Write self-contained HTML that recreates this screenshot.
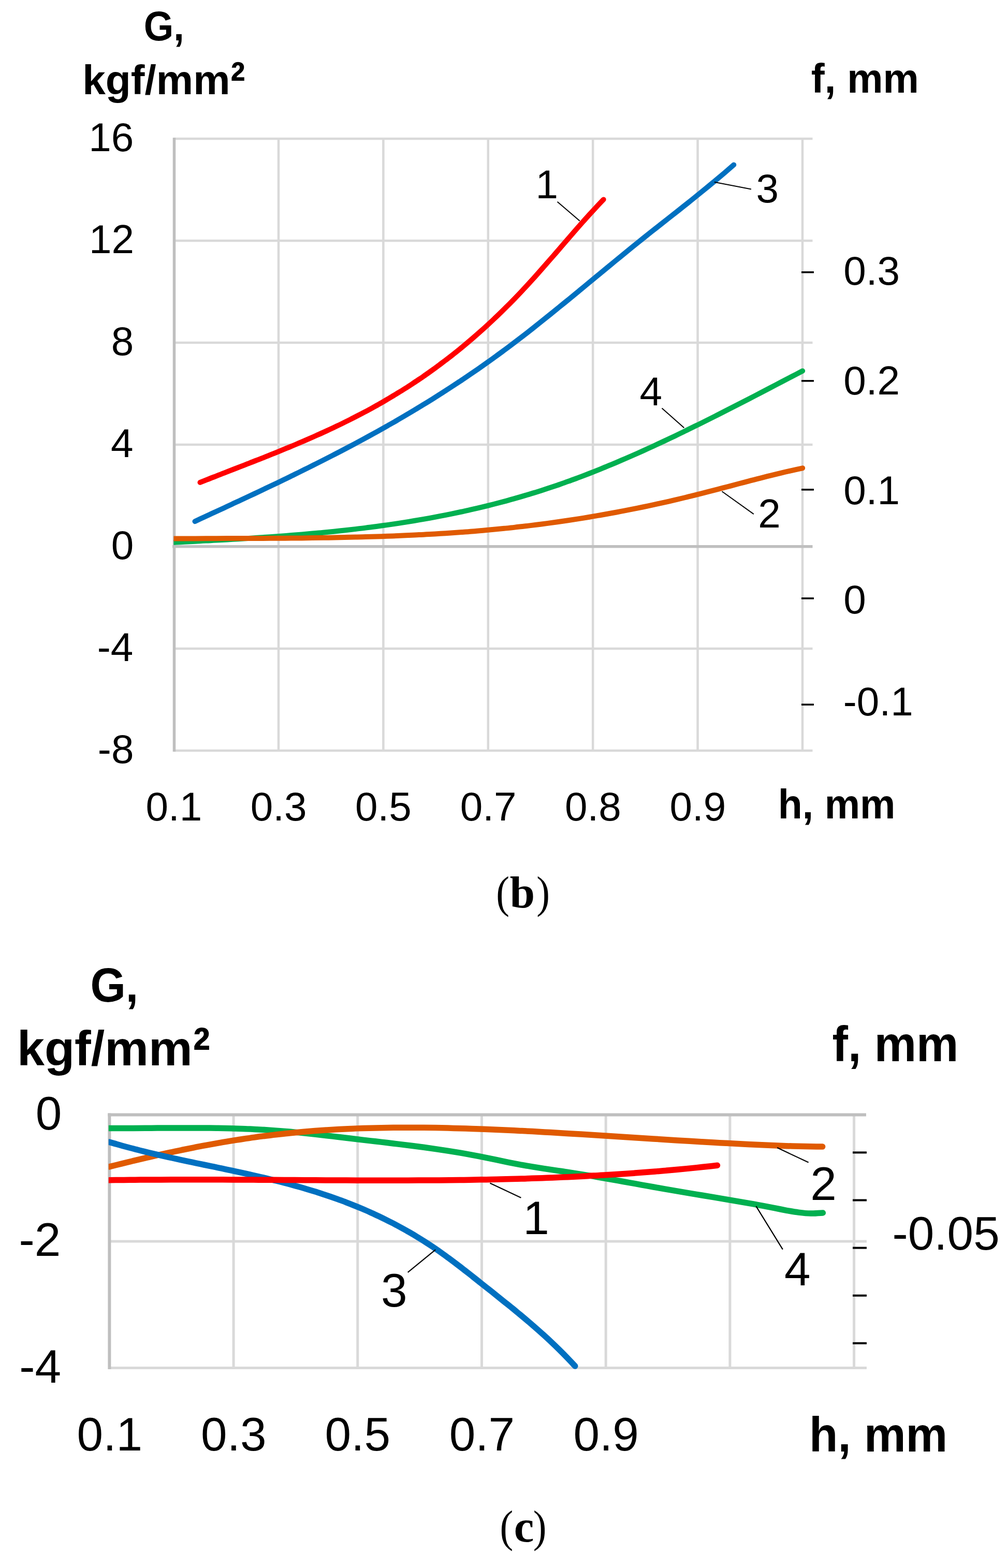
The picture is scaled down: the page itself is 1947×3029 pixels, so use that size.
<!DOCTYPE html>
<html><head><meta charset="utf-8"><title>G vs h charts</title>
<style>html,body{margin:0;padding:0;background:#fff;} svg{display:block;}</style>
</head><body>
<svg width="1947" height="3029" viewBox="0 0 1947 3029"><line x1="538.0" y1="268.0" x2="538.0" y2="1450.0" stroke="#d9d9d9" stroke-width="4.5" stroke-linecap="butt"/>
<line x1="740.4" y1="268.0" x2="740.4" y2="1450.0" stroke="#d9d9d9" stroke-width="4.5" stroke-linecap="butt"/>
<line x1="942.8" y1="268.0" x2="942.8" y2="1450.0" stroke="#d9d9d9" stroke-width="4.5" stroke-linecap="butt"/>
<line x1="1145.2" y1="268.0" x2="1145.2" y2="1450.0" stroke="#d9d9d9" stroke-width="4.5" stroke-linecap="butt"/>
<line x1="1347.6" y1="268.0" x2="1347.6" y2="1450.0" stroke="#d9d9d9" stroke-width="4.5" stroke-linecap="butt"/>
<line x1="1550.0" y1="268.0" x2="1550.0" y2="1450.0" stroke="#d9d9d9" stroke-width="4.5" stroke-linecap="butt"/>
<line x1="335.6" y1="268.0" x2="1569.5" y2="268.0" stroke="#d9d9d9" stroke-width="4.5" stroke-linecap="butt"/>
<line x1="335.6" y1="465.0" x2="1569.5" y2="465.0" stroke="#d9d9d9" stroke-width="4.5" stroke-linecap="butt"/>
<line x1="335.6" y1="662.0" x2="1569.5" y2="662.0" stroke="#d9d9d9" stroke-width="4.5" stroke-linecap="butt"/>
<line x1="335.6" y1="859.0" x2="1569.5" y2="859.0" stroke="#d9d9d9" stroke-width="4.5" stroke-linecap="butt"/>
<line x1="335.6" y1="1253.0" x2="1569.5" y2="1253.0" stroke="#d9d9d9" stroke-width="4.5" stroke-linecap="butt"/>
<line x1="335.6" y1="1450.0" x2="1569.5" y2="1450.0" stroke="#d9d9d9" stroke-width="4.5" stroke-linecap="butt"/>
<line x1="333.1" y1="1055.8" x2="1569.5" y2="1055.8" stroke="#bfbfbf" stroke-width="5.5" stroke-linecap="butt"/>
<line x1="336.5" y1="266.0" x2="336.5" y2="1452.0" stroke="#bfbfbf" stroke-width="5.5" stroke-linecap="butt"/>
<line x1="1548.0" y1="525.9" x2="1572.0" y2="525.9" stroke="#000000" stroke-width="3.5" stroke-linecap="butt"/>
<line x1="1548.0" y1="735.8" x2="1572.0" y2="735.8" stroke="#000000" stroke-width="3.5" stroke-linecap="butt"/>
<line x1="1548.0" y1="945.9" x2="1572.0" y2="945.9" stroke="#000000" stroke-width="3.5" stroke-linecap="butt"/>
<line x1="1548.0" y1="1155.9" x2="1572.0" y2="1155.9" stroke="#000000" stroke-width="3.5" stroke-linecap="butt"/>
<line x1="1548.0" y1="1361.1" x2="1572.0" y2="1361.1" stroke="#000000" stroke-width="3.5" stroke-linecap="butt"/>
<defs><clipPath id="clipT"><rect x="335.5" y="250" width="1300" height="1220"/></clipPath><clipPath id="clipB"><rect x="209.8" y="2140" width="1500" height="520"/></clipPath></defs>
<g clip-path="url(#clipT)">
<path d="M336.0,1047.8 C339.4,1047.7 349.7,1047.1 356.6,1046.8 C363.4,1046.4 370.3,1046.1 377.2,1045.7 C384.0,1045.4 390.9,1045.0 397.7,1044.6 C404.6,1044.3 411.5,1043.9 418.3,1043.5 C425.2,1043.1 432.0,1042.8 438.9,1042.4 C445.8,1042.0 452.6,1041.6 459.5,1041.2 C466.3,1040.8 473.2,1040.3 480.1,1039.9 C486.9,1039.5 493.8,1039.0 500.6,1038.6 C507.5,1038.1 514.4,1037.7 521.2,1037.2 C528.1,1036.7 534.9,1036.2 541.8,1035.7 C548.7,1035.2 555.5,1034.6 562.4,1034.1 C569.2,1033.6 576.1,1033.0 583.0,1032.4 C589.8,1031.8 596.7,1031.2 603.5,1030.6 C610.4,1030.0 617.3,1029.4 624.1,1028.7 C631.0,1028.0 637.8,1027.4 644.7,1026.7 C651.6,1025.9 658.4,1025.2 665.3,1024.5 C672.1,1023.7 679.0,1022.9 685.9,1022.1 C692.7,1021.3 699.6,1020.5 706.4,1019.6 C713.3,1018.8 720.2,1017.9 727.0,1017.0 C733.9,1016.0 740.7,1015.1 747.6,1014.1 C754.5,1013.1 761.3,1012.1 768.2,1011.1 C775.0,1010.1 781.9,1009.0 788.8,1007.9 C795.6,1006.8 802.5,1005.6 809.3,1004.4 C816.2,1003.3 823.1,1002.1 829.9,1000.8 C836.8,999.6 843.6,998.3 850.5,996.9 C857.4,995.6 864.2,994.3 871.1,992.9 C877.9,991.5 884.8,990.0 891.7,988.5 C898.5,987.0 905.4,985.5 912.2,983.9 C919.1,982.4 926.0,980.8 932.8,979.1 C939.7,977.4 946.5,975.7 953.4,974.0 C960.2,972.2 967.1,970.4 974.0,968.6 C980.8,966.7 987.7,964.9 994.5,962.9 C1001.4,961.0 1008.3,959.0 1015.1,956.9 C1022.0,954.9 1028.8,952.8 1035.7,950.7 C1042.6,948.5 1049.4,946.3 1056.3,944.1 C1063.1,941.8 1070.0,939.5 1076.9,937.2 C1083.7,934.8 1090.6,932.4 1097.4,929.9 C1104.3,927.5 1111.2,924.9 1118.0,922.4 C1124.9,919.8 1131.7,917.2 1138.6,914.5 C1145.5,911.8 1152.3,909.1 1159.2,906.3 C1166.0,903.6 1172.9,900.7 1179.8,897.9 C1186.6,895.0 1193.5,892.1 1200.3,889.2 C1207.2,886.3 1214.1,883.3 1220.9,880.3 C1227.8,877.2 1234.6,874.2 1241.5,871.1 C1248.4,868.0 1255.2,864.9 1262.1,861.7 C1268.9,858.5 1275.8,855.3 1282.7,852.1 C1289.5,848.9 1296.4,845.6 1303.2,842.4 C1310.1,839.1 1317.0,835.8 1323.8,832.4 C1330.7,829.1 1337.5,825.7 1344.4,822.3 C1351.3,819.0 1358.1,815.6 1365.0,812.1 C1371.8,808.7 1378.7,805.2 1385.6,801.8 C1392.4,798.3 1399.3,794.8 1406.1,791.3 C1413.0,787.8 1419.9,784.3 1426.7,780.8 C1433.6,777.3 1440.4,773.7 1447.3,770.2 C1454.2,766.6 1461.0,763.1 1467.9,759.5 C1474.7,755.9 1481.6,752.4 1488.5,748.8 C1495.3,745.2 1502.2,741.6 1509.0,738.0 C1515.9,734.4 1522.8,730.9 1529.6,727.3 C1536.5,723.7 1546.8,718.3 1550.2,716.5" fill="none" stroke="#00b050" stroke-width="10" stroke-linecap="round" stroke-linejoin="round"/>
<path d="M336.0,1040.6 C339.4,1040.6 349.7,1040.5 356.6,1040.5 C363.4,1040.4 370.3,1040.4 377.2,1040.4 C384.0,1040.3 390.9,1040.3 397.7,1040.3 C404.6,1040.3 411.5,1040.2 418.3,1040.2 C425.2,1040.2 432.0,1040.2 438.9,1040.1 C445.8,1040.1 452.6,1040.1 459.5,1040.1 C466.3,1040.1 473.2,1040.0 480.1,1040.0 C486.9,1040.0 493.8,1040.0 500.6,1039.9 C507.5,1039.9 514.4,1039.9 521.2,1039.8 C528.1,1039.8 534.9,1039.7 541.8,1039.7 C548.7,1039.7 555.5,1039.6 562.4,1039.5 C569.2,1039.5 576.1,1039.4 583.0,1039.4 C589.8,1039.3 596.7,1039.2 603.5,1039.1 C610.4,1039.0 617.3,1038.9 624.1,1038.8 C631.0,1038.7 637.8,1038.6 644.7,1038.5 C651.6,1038.4 658.4,1038.2 665.3,1038.1 C672.1,1038.0 679.0,1037.8 685.9,1037.6 C692.7,1037.5 699.6,1037.3 706.4,1037.1 C713.3,1036.9 720.2,1036.7 727.0,1036.5 C733.9,1036.3 740.7,1036.0 747.6,1035.8 C754.5,1035.5 761.3,1035.3 768.2,1035.0 C775.0,1034.7 781.9,1034.4 788.8,1034.1 C795.6,1033.8 802.5,1033.5 809.3,1033.1 C816.2,1032.8 823.1,1032.4 829.9,1032.0 C836.8,1031.6 843.6,1031.2 850.5,1030.8 C857.4,1030.4 864.2,1030.0 871.1,1029.5 C877.9,1029.0 884.8,1028.5 891.7,1028.0 C898.5,1027.5 905.4,1027.0 912.2,1026.4 C919.1,1025.9 926.0,1025.3 932.8,1024.7 C939.7,1024.1 946.5,1023.5 953.4,1022.8 C960.2,1022.2 967.1,1021.5 974.0,1020.8 C980.8,1020.1 987.7,1019.4 994.5,1018.6 C1001.4,1017.9 1008.3,1017.1 1015.1,1016.3 C1022.0,1015.5 1028.8,1014.7 1035.7,1013.8 C1042.6,1012.9 1049.4,1012.0 1056.3,1011.1 C1063.1,1010.2 1070.0,1009.3 1076.9,1008.3 C1083.7,1007.3 1090.6,1006.3 1097.4,1005.3 C1104.3,1004.2 1111.2,1003.2 1118.0,1002.1 C1124.9,1001.0 1131.7,999.9 1138.6,998.7 C1145.5,997.6 1152.3,996.4 1159.2,995.2 C1166.0,994.0 1172.9,992.8 1179.8,991.5 C1186.6,990.3 1193.5,989.0 1200.3,987.7 C1207.2,986.4 1214.1,985.0 1220.9,983.7 C1227.8,982.3 1234.6,980.9 1241.5,979.5 C1248.4,978.0 1255.2,976.6 1262.1,975.1 C1268.9,973.6 1275.8,972.1 1282.7,970.6 C1289.5,969.0 1296.4,967.5 1303.2,965.9 C1310.1,964.3 1317.0,962.6 1323.8,961.0 C1330.7,959.3 1337.5,957.7 1344.4,955.9 C1351.3,954.2 1358.1,952.5 1365.0,950.7 C1371.8,949.0 1378.7,947.2 1385.6,945.4 C1392.4,943.6 1399.3,941.8 1406.1,940.0 C1413.0,938.2 1419.9,936.3 1426.7,934.5 C1433.6,932.7 1440.4,930.9 1447.3,929.1 C1454.2,927.3 1461.0,925.5 1467.9,923.8 C1474.7,922.0 1481.6,920.3 1488.5,918.6 C1495.3,916.9 1502.2,915.2 1509.0,913.6 C1515.9,911.9 1522.8,910.3 1529.6,908.8 C1536.5,907.2 1546.8,905.0 1550.2,904.3" fill="none" stroke="#e05a00" stroke-width="10" stroke-linecap="round" stroke-linejoin="round"/>
<path d="M376.5,1007.2 C379.4,1005.8 388.3,1001.7 394.1,999.0 C400.0,996.3 405.9,993.6 411.8,990.8 C417.7,988.1 423.5,985.4 429.4,982.7 C435.3,979.9 441.2,977.2 447.1,974.5 C452.9,971.7 458.8,969.0 464.7,966.2 C470.6,963.5 476.5,960.7 482.3,958.0 C488.2,955.2 494.1,952.5 500.0,949.7 C505.9,946.9 511.7,944.1 517.6,941.3 C523.5,938.5 529.4,935.7 535.3,932.9 C541.1,930.1 547.0,927.2 552.9,924.4 C558.8,921.5 564.7,918.7 570.5,915.8 C576.4,912.9 582.3,910.0 588.2,907.1 C594.1,904.2 599.9,901.3 605.8,898.3 C611.7,895.4 617.6,892.4 623.5,889.4 C629.3,886.4 635.2,883.4 641.1,880.4 C647.0,877.4 652.9,874.4 658.8,871.3 C664.6,868.2 670.5,865.1 676.4,862.0 C682.3,858.9 688.2,855.8 694.0,852.6 C699.9,849.4 705.8,846.2 711.7,843.0 C717.6,839.8 723.4,836.5 729.3,833.3 C735.2,830.0 741.1,826.7 747.0,823.4 C752.8,820.0 758.7,816.7 764.6,813.3 C770.5,809.9 776.4,806.4 782.2,803.0 C788.1,799.5 794.0,796.0 799.9,792.5 C805.8,789.0 811.6,785.4 817.5,781.8 C823.4,778.2 829.3,774.6 835.2,770.9 C841.0,767.2 846.9,763.5 852.8,759.8 C858.7,756.0 864.6,752.2 870.4,748.4 C876.3,744.6 882.2,740.7 888.1,736.8 C894.0,732.9 899.8,728.9 905.7,724.9 C911.6,720.9 917.5,716.9 923.4,712.8 C929.2,708.7 935.1,704.6 941.0,700.4 C946.9,696.2 952.8,692.0 958.6,687.7 C964.5,683.5 970.4,679.1 976.3,674.8 C982.2,670.4 988.0,666.0 993.9,661.5 C999.8,657.0 1005.7,652.5 1011.6,648.0 C1017.4,643.4 1023.3,638.8 1029.2,634.2 C1035.1,629.6 1041.0,624.9 1046.8,620.2 C1052.7,615.5 1058.6,610.8 1064.5,606.0 C1070.4,601.3 1076.2,596.5 1082.1,591.7 C1088.0,586.9 1093.9,582.1 1099.8,577.3 C1105.6,572.5 1111.5,567.6 1117.4,562.8 C1123.3,557.9 1129.2,553.1 1135.0,548.2 C1140.9,543.4 1146.8,538.5 1152.7,533.6 C1158.6,528.8 1164.5,523.9 1170.3,519.1 C1176.2,514.2 1182.1,509.4 1188.0,504.5 C1193.9,499.7 1199.7,494.9 1205.6,490.1 C1211.5,485.3 1217.4,480.5 1223.3,475.7 C1229.1,471.0 1235.0,466.2 1240.9,461.5 C1246.8,456.8 1252.7,452.1 1258.5,447.4 C1264.4,442.8 1270.3,438.1 1276.2,433.5 C1282.1,428.8 1287.9,424.2 1293.8,419.6 C1299.7,414.9 1305.6,410.3 1311.5,405.7 C1317.3,401.0 1323.2,396.3 1329.1,391.7 C1335.0,387.0 1340.9,382.3 1346.7,377.5 C1352.6,372.8 1358.5,368.0 1364.4,363.2 C1370.3,358.4 1376.1,353.5 1382.0,348.6 C1387.9,343.7 1393.8,338.7 1399.7,333.7 C1405.5,328.7 1414.4,321.0 1417.3,318.4" fill="none" stroke="#0070c0" stroke-width="10" stroke-linecap="round" stroke-linejoin="round"/>
<path d="M386.5,931.9 C388.7,931.0 395.3,928.4 399.7,926.7 C404.1,924.9 408.5,923.2 412.9,921.5 C417.3,919.7 421.7,918.0 426.1,916.3 C430.5,914.6 434.9,912.9 439.3,911.1 C443.7,909.4 448.1,907.7 452.5,906.0 C456.9,904.3 461.3,902.6 465.7,900.9 C470.1,899.2 474.5,897.4 478.9,895.7 C483.3,894.0 487.8,892.3 492.2,890.5 C496.6,888.8 501.0,887.1 505.4,885.3 C509.8,883.6 514.2,881.9 518.6,880.1 C523.0,878.3 527.4,876.6 531.8,874.8 C536.2,873.0 540.6,871.2 545.0,869.4 C549.4,867.6 553.8,865.8 558.2,864.0 C562.6,862.2 567.0,860.3 571.4,858.5 C575.8,856.6 580.2,854.8 584.6,852.9 C589.0,851.0 593.4,849.1 597.8,847.2 C602.2,845.2 606.6,843.3 611.0,841.3 C615.4,839.4 619.8,837.4 624.2,835.4 C628.6,833.4 633.0,831.3 637.4,829.3 C641.8,827.2 646.2,825.1 650.6,823.0 C655.0,820.9 659.4,818.8 663.8,816.6 C668.2,814.5 672.6,812.3 677.0,810.1 C681.5,807.9 685.9,805.6 690.3,803.3 C694.7,801.1 699.1,798.8 703.5,796.4 C707.9,794.1 712.3,791.7 716.7,789.3 C721.1,786.9 725.5,784.4 729.9,782.0 C734.3,779.5 738.7,777.0 743.1,774.4 C747.5,771.9 751.9,769.3 756.3,766.6 C760.7,764.0 765.1,761.3 769.5,758.6 C773.9,755.9 778.3,753.2 782.7,750.4 C787.1,747.6 791.5,744.7 795.9,741.8 C800.3,738.9 804.7,736.0 809.1,733.0 C813.5,730.1 817.9,727.0 822.3,724.0 C826.7,720.9 831.1,717.8 835.5,714.6 C839.9,711.4 844.3,708.2 848.7,704.9 C853.1,701.7 857.5,698.3 861.9,695.0 C866.3,691.6 870.7,688.2 875.2,684.7 C879.6,681.2 884.0,677.7 888.4,674.1 C892.8,670.5 897.2,666.8 901.6,663.1 C906.0,659.5 910.4,655.7 914.8,651.9 C919.2,648.1 923.6,644.2 928.0,640.3 C932.4,636.4 936.8,632.4 941.2,628.3 C945.6,624.3 950.0,620.2 954.4,616.0 C958.8,611.9 963.2,607.6 967.6,603.4 C972.0,599.1 976.4,594.7 980.8,590.3 C985.2,585.9 989.6,581.4 994.0,576.9 C998.4,572.4 1002.8,567.8 1007.2,563.1 C1011.6,558.4 1016.0,553.7 1020.4,548.9 C1024.8,544.1 1029.2,539.2 1033.6,534.3 C1038.0,529.4 1042.4,524.4 1046.8,519.4 C1051.2,514.4 1055.6,509.4 1060.0,504.3 C1064.4,499.3 1068.9,494.2 1073.3,489.1 C1077.7,484.0 1082.1,478.8 1086.5,473.7 C1090.9,468.6 1095.3,463.5 1099.7,458.5 C1104.1,453.4 1108.5,448.3 1112.9,443.3 C1117.3,438.3 1121.7,433.3 1126.1,428.3 C1130.5,423.4 1134.9,418.4 1139.3,413.6 C1143.7,408.8 1148.1,404.0 1152.5,399.3 C1156.9,394.6 1163.5,387.7 1165.7,385.4" fill="none" stroke="#ff0000" stroke-width="10" stroke-linecap="round" stroke-linejoin="round"/>
</g>
<line x1="1076.6" y1="389.7" x2="1119.8" y2="426.8" stroke="#000" stroke-width="2" stroke-linecap="butt"/>
<line x1="1379.9" y1="351.7" x2="1451.0" y2="365.4" stroke="#000" stroke-width="2" stroke-linecap="butt"/>
<line x1="1278.5" y1="788.6" x2="1321.4" y2="826.6" stroke="#000" stroke-width="2" stroke-linecap="butt"/>
<line x1="1394.5" y1="949.3" x2="1455.8" y2="993.1" stroke="#000" stroke-width="2" stroke-linecap="butt"/>
<text transform="translate(277.74,78.40) scale(0.9300,1)" font-family='"Liberation Sans", Arial, sans-serif' font-weight="bold" font-size="79.57" fill="#000">G,</text>
<text transform="translate(159.18,182.00) scale(1.0012,1)" font-family='"Liberation Sans", Arial, sans-serif' font-weight="bold" font-size="80.14" fill="#000">kgf/mm</text>
<text transform="translate(445.37,191.37) scale(0.8385,1)" font-family='"Liberation Sans", Arial, sans-serif' font-weight="bold" font-size="101.69" fill="#000">²</text>
<text transform="translate(1566.83,179.00) scale(0.9716,1)" font-family='"Liberation Sans", Arial, sans-serif' font-weight="bold" font-size="80.28" fill="#000">f, mm</text>
<text transform="translate(1502.81,1581.30) scale(0.9610,1)" font-family='"Liberation Sans", Arial, sans-serif' font-weight="bold" font-size="80.14" fill="#000">h, mm</text>
<text transform="translate(171.22,291.50) scale(1.0000,1)" font-family='"Liberation Sans", Arial, sans-serif' font-weight="normal" font-size="78.30" fill="#000">16</text>
<text transform="translate(172.00,488.50) scale(1.0000,1)" font-family='"Liberation Sans", Arial, sans-serif' font-weight="normal" font-size="78.30" fill="#000">12</text>
<text transform="translate(214.68,685.50) scale(1.0000,1)" font-family='"Liberation Sans", Arial, sans-serif' font-weight="normal" font-size="78.30" fill="#000">8</text>
<text transform="translate(213.89,882.50) scale(1.0000,1)" font-family='"Liberation Sans", Arial, sans-serif' font-weight="normal" font-size="78.30" fill="#000">4</text>
<text transform="translate(214.68,1079.50) scale(1.0000,1)" font-family='"Liberation Sans", Arial, sans-serif' font-weight="normal" font-size="78.30" fill="#000">0</text>
<text transform="translate(187.66,1276.50) scale(1.0000,1)" font-family='"Liberation Sans", Arial, sans-serif' font-weight="normal" font-size="78.30" fill="#000">-4</text>
<text transform="translate(188.84,1473.50) scale(1.0000,1)" font-family='"Liberation Sans", Arial, sans-serif' font-weight="normal" font-size="78.30" fill="#000">-8</text>
<text transform="translate(281.57,1584.80) scale(1.0000,1)" font-family='"Liberation Sans", Arial, sans-serif' font-weight="normal" font-size="78.30" fill="#000">0.1</text>
<text transform="translate(483.78,1584.80) scale(1.0000,1)" font-family='"Liberation Sans", Arial, sans-serif' font-weight="normal" font-size="78.30" fill="#000">0.3</text>
<text transform="translate(685.98,1584.80) scale(1.0000,1)" font-family='"Liberation Sans", Arial, sans-serif' font-weight="normal" font-size="78.30" fill="#000">0.5</text>
<text transform="translate(888.77,1584.80) scale(1.0000,1)" font-family='"Liberation Sans", Arial, sans-serif' font-weight="normal" font-size="78.30" fill="#000">0.7</text>
<text transform="translate(1090.98,1584.80) scale(1.0000,1)" font-family='"Liberation Sans", Arial, sans-serif' font-weight="normal" font-size="78.30" fill="#000">0.8</text>
<text transform="translate(1293.57,1584.80) scale(1.0000,1)" font-family='"Liberation Sans", Arial, sans-serif' font-weight="normal" font-size="78.30" fill="#000">0.9</text>
<text transform="translate(1629.17,550.30) scale(1.0000,1)" font-family='"Liberation Sans", Arial, sans-serif' font-weight="normal" font-size="78.30" fill="#000">0.3</text>
<text transform="translate(1629.17,761.70) scale(1.0000,1)" font-family='"Liberation Sans", Arial, sans-serif' font-weight="normal" font-size="78.30" fill="#000">0.2</text>
<text transform="translate(1629.17,974.20) scale(1.0000,1)" font-family='"Liberation Sans", Arial, sans-serif' font-weight="normal" font-size="78.30" fill="#000">0.1</text>
<text transform="translate(1629.17,1184.70) scale(1.0000,1)" font-family='"Liberation Sans", Arial, sans-serif' font-weight="normal" font-size="78.30" fill="#000">0</text>
<text transform="translate(1628.78,1381.90) scale(1.0000,1)" font-family='"Liberation Sans", Arial, sans-serif' font-weight="normal" font-size="78.30" fill="#000">-0.1</text>
<text transform="translate(1034.43,383.00) scale(1.0000,1)" font-family='"Liberation Sans", Arial, sans-serif' font-weight="normal" font-size="78.30" fill="#000">1</text>
<text transform="translate(1460.47,391.40) scale(1.0000,1)" font-family='"Liberation Sans", Arial, sans-serif' font-weight="normal" font-size="78.30" fill="#000">3</text>
<text transform="translate(1235.54,783.30) scale(1.0000,1)" font-family='"Liberation Sans", Arial, sans-serif' font-weight="normal" font-size="78.30" fill="#000">4</text>
<text transform="translate(1464.18,1018.90) scale(1.0000,1)" font-family='"Liberation Sans", Arial, sans-serif' font-weight="normal" font-size="78.30" fill="#000">2</text>
<text transform="translate(958.22,1753.20) scale(0.8900,1)" font-family='"Liberation Serif", "Times New Roman", serif' font-weight="normal" font-size="87.00" fill="#000">(</text>
<text transform="translate(984.70,1753.20) scale(1.0000,1)" font-family='"Liberation Serif", "Times New Roman", serif' font-weight="bold" font-size="87.00" fill="#000">b</text>
<text transform="translate(1036.35,1753.20) scale(0.8900,1)" font-family='"Liberation Serif", "Times New Roman", serif' font-weight="normal" font-size="87.00" fill="#000">)</text>
<line x1="451.1" y1="2153.5" x2="451.1" y2="2642.5" stroke="#d9d9d9" stroke-width="5" stroke-linecap="butt"/>
<line x1="690.8" y1="2153.5" x2="690.8" y2="2642.5" stroke="#d9d9d9" stroke-width="5" stroke-linecap="butt"/>
<line x1="930.5" y1="2153.5" x2="930.5" y2="2642.5" stroke="#d9d9d9" stroke-width="5" stroke-linecap="butt"/>
<line x1="1170.2" y1="2153.5" x2="1170.2" y2="2642.5" stroke="#d9d9d9" stroke-width="5" stroke-linecap="butt"/>
<line x1="1409.9" y1="2153.5" x2="1409.9" y2="2642.5" stroke="#d9d9d9" stroke-width="5" stroke-linecap="butt"/>
<line x1="1649.6" y1="2153.5" x2="1649.6" y2="2642.5" stroke="#d9d9d9" stroke-width="5" stroke-linecap="butt"/>
<line x1="211.4" y1="2398.0" x2="1674.0" y2="2398.0" stroke="#d9d9d9" stroke-width="5" stroke-linecap="butt"/>
<line x1="211.4" y1="2642.5" x2="1674.0" y2="2642.5" stroke="#d9d9d9" stroke-width="5" stroke-linecap="butt"/>
<line x1="208.4" y1="2153.5" x2="1673.0" y2="2153.5" stroke="#bfbfbf" stroke-width="6" stroke-linecap="butt"/>
<line x1="211.4" y1="2150.5" x2="211.4" y2="2645.0" stroke="#bfbfbf" stroke-width="6" stroke-linecap="butt"/>
<line x1="1647.0" y1="2226.4" x2="1674.0" y2="2226.4" stroke="#000000" stroke-width="4" stroke-linecap="butt"/>
<line x1="1647.0" y1="2318.5" x2="1674.0" y2="2318.5" stroke="#000000" stroke-width="4" stroke-linecap="butt"/>
<line x1="1647.0" y1="2410.6" x2="1674.0" y2="2410.6" stroke="#000000" stroke-width="4" stroke-linecap="butt"/>
<line x1="1647.0" y1="2502.7" x2="1674.0" y2="2502.7" stroke="#000000" stroke-width="4" stroke-linecap="butt"/>
<line x1="1647.0" y1="2594.8" x2="1674.0" y2="2594.8" stroke="#000000" stroke-width="4" stroke-linecap="butt"/>
<g clip-path="url(#clipB)">
<path d="M210.5,2179.5 C214.4,2179.5 226.1,2179.5 233.9,2179.5 C241.7,2179.5 249.5,2179.5 257.2,2179.4 C265.0,2179.4 272.8,2179.4 280.6,2179.3 C288.4,2179.2 296.2,2179.2 304.0,2179.1 C311.8,2179.1 319.6,2179.0 327.4,2179.0 C335.1,2178.9 342.9,2178.9 350.7,2178.9 C358.5,2178.9 366.3,2178.9 374.1,2178.9 C381.9,2178.9 389.7,2178.9 397.5,2179.0 C405.3,2179.1 413.1,2179.1 420.8,2179.3 C428.6,2179.4 436.4,2179.5 444.2,2179.7 C452.0,2179.9 459.8,2180.2 467.6,2180.5 C475.4,2180.7 483.2,2181.1 491.0,2181.4 C498.7,2181.8 506.5,2182.2 514.3,2182.7 C522.1,2183.2 529.9,2183.8 537.7,2184.4 C545.5,2185.0 553.3,2185.6 561.1,2186.3 C568.9,2187.0 576.6,2187.8 584.4,2188.6 C592.2,2189.4 600.0,2190.2 607.8,2191.1 C615.6,2191.9 623.4,2192.8 631.2,2193.7 C639.0,2194.6 646.8,2195.6 654.6,2196.5 C662.3,2197.4 670.1,2198.4 677.9,2199.3 C685.7,2200.2 693.5,2201.1 701.3,2202.1 C709.1,2203.0 716.9,2203.9 724.7,2204.8 C732.5,2205.7 740.2,2206.6 748.0,2207.5 C755.8,2208.5 763.6,2209.4 771.4,2210.4 C779.2,2211.3 787.0,2212.3 794.8,2213.3 C802.6,2214.3 810.4,2215.3 818.2,2216.3 C825.9,2217.4 833.7,2218.5 841.5,2219.6 C849.3,2220.7 857.1,2221.9 864.9,2223.1 C872.7,2224.3 880.5,2225.6 888.3,2226.9 C896.1,2228.2 903.8,2229.6 911.6,2231.1 C919.4,2232.5 927.2,2234.0 935.0,2235.6 C942.8,2237.2 950.6,2238.8 958.4,2240.4 C966.2,2242.1 974.0,2243.7 981.7,2245.3 C989.5,2246.9 997.3,2248.4 1005.1,2249.9 C1012.9,2251.3 1020.7,2252.6 1028.5,2253.9 C1036.3,2255.2 1044.1,2256.4 1051.9,2257.6 C1059.7,2258.8 1067.4,2259.9 1075.2,2261.1 C1083.0,2262.3 1090.8,2263.4 1098.6,2264.7 C1106.4,2265.9 1114.2,2267.1 1122.0,2268.4 C1129.8,2269.6 1137.6,2270.9 1145.3,2272.2 C1153.1,2273.6 1160.9,2274.9 1168.7,2276.3 C1176.5,2277.6 1184.3,2279.0 1192.1,2280.4 C1199.9,2281.8 1207.7,2283.2 1215.5,2284.6 C1223.3,2286.0 1231.0,2287.4 1238.8,2288.8 C1246.6,2290.2 1254.4,2291.6 1262.2,2293.0 C1270.0,2294.3 1277.8,2295.7 1285.6,2297.1 C1293.4,2298.5 1301.2,2299.8 1308.9,2301.1 C1316.7,2302.5 1324.5,2303.8 1332.3,2305.1 C1340.1,2306.4 1347.9,2307.7 1355.7,2309.0 C1363.5,2310.3 1371.3,2311.6 1379.1,2312.9 C1386.8,2314.2 1394.6,2315.5 1402.4,2316.8 C1410.2,2318.1 1418.0,2319.5 1425.8,2320.8 C1433.6,2322.2 1441.4,2323.5 1449.2,2324.9 C1457.0,2326.3 1464.8,2327.7 1472.5,2329.2 C1480.3,2330.7 1488.1,2332.2 1495.9,2333.7 C1503.7,2335.2 1511.5,2336.8 1519.3,2338.3 C1527.1,2339.7 1534.9,2341.2 1542.7,2342.1 C1550.4,2343.1 1558.2,2344.0 1566.0,2344.1 C1573.8,2344.3 1585.5,2343.2 1589.4,2343.0" fill="none" stroke="#00b050" stroke-width="11.5" stroke-linecap="round" stroke-linejoin="round"/>
<path d="M211.0,2253.9 C214.9,2252.9 226.6,2250.0 234.4,2248.1 C242.1,2246.1 249.9,2244.2 257.7,2242.4 C265.5,2240.5 273.3,2238.7 281.1,2236.9 C288.8,2235.0 296.6,2233.3 304.4,2231.5 C312.2,2229.8 320.0,2228.1 327.8,2226.4 C335.5,2224.7 343.3,2223.1 351.1,2221.5 C358.9,2219.9 366.7,2218.3 374.5,2216.8 C382.2,2215.2 390.0,2213.8 397.8,2212.3 C405.6,2210.9 413.4,2209.5 421.2,2208.1 C428.9,2206.7 436.7,2205.4 444.5,2204.1 C452.3,2202.9 460.1,2201.6 467.9,2200.5 C475.6,2199.3 483.4,2198.1 491.2,2197.1 C499.0,2196.0 506.8,2194.9 514.6,2194.0 C522.3,2193.0 530.1,2192.0 537.9,2191.2 C545.7,2190.3 553.5,2189.4 561.3,2188.7 C569.0,2187.9 576.8,2187.2 584.6,2186.5 C592.4,2185.8 600.2,2185.2 608.0,2184.6 C615.7,2184.0 623.5,2183.4 631.3,2182.9 C639.1,2182.4 646.9,2182.0 654.7,2181.6 C662.4,2181.2 670.2,2180.8 678.0,2180.5 C685.8,2180.1 693.6,2179.8 701.4,2179.6 C709.2,2179.3 716.9,2179.1 724.7,2178.9 C732.5,2178.7 740.3,2178.6 748.1,2178.5 C755.9,2178.4 763.6,2178.3 771.4,2178.2 C779.2,2178.2 787.0,2178.2 794.8,2178.2 C802.6,2178.2 810.3,2178.3 818.1,2178.3 C825.9,2178.4 833.7,2178.5 841.5,2178.6 C849.3,2178.8 857.0,2178.9 864.8,2179.1 C872.6,2179.3 880.4,2179.5 888.2,2179.7 C896.0,2179.9 903.7,2180.1 911.5,2180.4 C919.3,2180.7 927.1,2181.0 934.9,2181.3 C942.7,2181.6 950.4,2181.9 958.2,2182.2 C966.0,2182.5 973.8,2182.9 981.6,2183.3 C989.4,2183.6 997.1,2184.0 1004.9,2184.4 C1012.7,2184.8 1020.5,2185.2 1028.3,2185.6 C1036.1,2186.0 1043.8,2186.5 1051.6,2186.9 C1059.4,2187.4 1067.2,2187.8 1075.0,2188.3 C1082.8,2188.7 1090.5,2189.2 1098.3,2189.7 C1106.1,2190.1 1113.9,2190.6 1121.7,2191.1 C1129.5,2191.6 1137.3,2192.1 1145.0,2192.6 C1152.8,2193.1 1160.6,2193.6 1168.4,2194.0 C1176.2,2194.5 1184.0,2195.0 1191.7,2195.5 C1199.5,2196.0 1207.3,2196.5 1215.1,2197.0 C1222.9,2197.5 1230.7,2198.0 1238.4,2198.5 C1246.2,2199.0 1254.0,2199.5 1261.8,2200.0 C1269.6,2200.5 1277.4,2201.0 1285.1,2201.4 C1292.9,2201.9 1300.7,2202.4 1308.5,2202.9 C1316.3,2203.4 1324.1,2203.8 1331.8,2204.3 C1339.6,2204.8 1347.4,2205.2 1355.2,2205.7 C1363.0,2206.1 1370.8,2206.6 1378.5,2207.0 C1386.3,2207.4 1394.1,2207.9 1401.9,2208.3 C1409.7,2208.7 1417.5,2209.2 1425.2,2209.6 C1433.0,2210.0 1440.8,2210.4 1448.6,2210.8 C1456.4,2211.1 1464.2,2211.5 1471.9,2211.8 C1479.7,2212.2 1487.5,2212.5 1495.3,2212.8 C1503.1,2213.1 1510.9,2213.4 1518.6,2213.7 C1526.4,2213.9 1534.2,2214.1 1542.0,2214.3 C1549.8,2214.5 1557.6,2214.7 1565.3,2214.8 C1573.1,2215.0 1584.8,2215.1 1588.7,2215.1" fill="none" stroke="#e05a00" stroke-width="11.5" stroke-linecap="round" stroke-linejoin="round"/>
<path d="M210.8,2206.1 C213.3,2206.8 221.0,2209.1 226.1,2210.5 C231.1,2212.0 236.2,2213.4 241.3,2214.8 C246.4,2216.2 251.5,2217.5 256.6,2218.8 C261.6,2220.2 266.7,2221.4 271.8,2222.7 C276.9,2224.0 282.0,2225.2 287.1,2226.5 C292.2,2227.7 297.2,2228.9 302.3,2230.1 C307.4,2231.3 312.5,2232.4 317.6,2233.6 C322.7,2234.7 327.7,2235.9 332.8,2237.0 C337.9,2238.1 343.0,2239.2 348.1,2240.3 C353.2,2241.4 358.3,2242.5 363.3,2243.6 C368.4,2244.7 373.5,2245.7 378.6,2246.8 C383.7,2247.9 388.8,2248.9 393.9,2250.0 C398.9,2251.1 404.0,2252.1 409.1,2253.2 C414.2,2254.2 419.3,2255.3 424.4,2256.4 C429.4,2257.4 434.5,2258.5 439.6,2259.6 C444.7,2260.7 449.8,2261.7 454.9,2262.8 C460.0,2263.9 465.0,2265.0 470.1,2266.2 C475.2,2267.3 480.3,2268.4 485.4,2269.6 C490.5,2270.7 495.5,2271.9 500.6,2273.0 C505.7,2274.2 510.8,2275.4 515.9,2276.6 C521.0,2277.9 526.1,2279.1 531.1,2280.4 C536.2,2281.6 541.3,2282.9 546.4,2284.2 C551.5,2285.6 556.6,2286.9 561.6,2288.3 C566.7,2289.7 571.8,2291.1 576.9,2292.5 C582.0,2293.9 587.1,2295.4 592.2,2296.9 C597.2,2298.4 602.3,2300.0 607.4,2301.6 C612.5,2303.1 617.6,2304.8 622.7,2306.4 C627.7,2308.1 632.8,2309.8 637.9,2311.5 C643.0,2313.3 648.1,2315.1 653.2,2316.9 C658.3,2318.8 663.3,2320.6 668.4,2322.6 C673.5,2324.5 678.6,2326.5 683.7,2328.6 C688.8,2330.6 693.9,2332.7 698.9,2334.8 C704.0,2337.0 709.1,2339.2 714.2,2341.5 C719.3,2343.7 724.4,2346.1 729.4,2348.5 C734.5,2350.8 739.6,2353.3 744.7,2355.8 C749.8,2358.3 754.9,2360.9 760.0,2363.5 C765.0,2366.2 770.1,2368.9 775.2,2371.7 C780.3,2374.5 785.4,2377.3 790.5,2380.3 C795.5,2383.2 800.6,2386.2 805.7,2389.3 C810.8,2392.4 815.9,2395.5 821.0,2398.8 C826.1,2402.0 831.1,2405.4 836.2,2408.8 C841.3,2412.2 846.4,2415.8 851.5,2419.4 C856.6,2423.0 861.6,2426.7 866.7,2430.4 C871.8,2434.2 876.9,2438.0 882.0,2441.9 C887.1,2445.7 892.2,2449.7 897.2,2453.6 C902.3,2457.6 907.4,2461.6 912.5,2465.6 C917.6,2469.6 922.7,2473.6 927.7,2477.7 C932.8,2481.7 937.9,2485.7 943.0,2489.8 C948.1,2493.8 953.2,2497.9 958.3,2501.9 C963.3,2506.0 968.4,2510.1 973.5,2514.2 C978.6,2518.3 983.7,2522.3 988.8,2526.5 C993.9,2530.6 998.9,2534.8 1004.0,2539.0 C1009.1,2543.2 1014.2,2547.5 1019.3,2551.8 C1024.4,2556.1 1029.4,2560.5 1034.5,2565.0 C1039.6,2569.4 1044.7,2574.0 1049.8,2578.6 C1054.9,2583.2 1060.0,2587.9 1065.0,2592.7 C1070.1,2597.5 1075.2,2602.4 1080.3,2607.4 C1085.4,2612.4 1090.5,2617.6 1095.5,2622.8 C1100.6,2628.1 1108.3,2636.3 1110.8,2639.0" fill="none" stroke="#0070c0" stroke-width="11.5" stroke-linecap="round" stroke-linejoin="round"/>
<path d="M211.0,2279.8 C214.3,2279.8 224.3,2279.6 230.9,2279.5 C237.5,2279.5 244.2,2279.4 250.8,2279.3 C257.4,2279.2 264.1,2279.2 270.7,2279.1 C277.4,2279.1 284.0,2279.0 290.6,2279.0 C297.3,2278.9 303.9,2278.9 310.5,2278.9 C317.2,2278.8 323.8,2278.8 330.4,2278.8 C337.1,2278.8 343.7,2278.8 350.3,2278.7 C357.0,2278.7 363.6,2278.7 370.3,2278.7 C376.9,2278.7 383.5,2278.7 390.2,2278.7 C396.8,2278.7 403.4,2278.8 410.1,2278.8 C416.7,2278.8 423.3,2278.8 430.0,2278.8 C436.6,2278.9 443.2,2278.9 449.9,2278.9 C456.5,2278.9 463.2,2279.0 469.8,2279.0 C476.4,2279.0 483.1,2279.1 489.7,2279.1 C496.3,2279.1 503.0,2279.2 509.6,2279.2 C516.2,2279.2 522.9,2279.3 529.5,2279.3 C536.1,2279.4 542.8,2279.4 549.4,2279.4 C556.1,2279.5 562.7,2279.5 569.3,2279.6 C576.0,2279.6 582.6,2279.7 589.2,2279.7 C595.9,2279.7 602.5,2279.8 609.1,2279.8 C615.8,2279.8 622.4,2279.9 629.0,2279.9 C635.7,2280.0 642.3,2280.0 648.9,2280.0 C655.6,2280.1 662.2,2280.1 668.9,2280.1 C675.5,2280.1 682.1,2280.2 688.8,2280.2 C695.4,2280.2 702.0,2280.2 708.7,2280.2 C715.3,2280.3 721.9,2280.3 728.6,2280.3 C735.2,2280.3 741.8,2280.3 748.5,2280.3 C755.1,2280.3 761.8,2280.3 768.4,2280.3 C775.0,2280.3 781.7,2280.2 788.3,2280.2 C794.9,2280.2 801.6,2280.2 808.2,2280.1 C814.8,2280.1 821.5,2280.1 828.1,2280.0 C834.7,2280.0 841.4,2279.9 848.0,2279.9 C854.7,2279.8 861.3,2279.7 867.9,2279.7 C874.6,2279.6 881.2,2279.5 887.8,2279.4 C894.5,2279.4 901.1,2279.3 907.7,2279.2 C914.4,2279.1 921.0,2278.9 927.6,2278.8 C934.3,2278.7 940.9,2278.6 947.6,2278.4 C954.2,2278.3 960.8,2278.2 967.5,2278.0 C974.1,2277.8 980.7,2277.7 987.4,2277.5 C994.0,2277.3 1000.6,2277.1 1007.3,2277.0 C1013.9,2276.8 1020.5,2276.6 1027.2,2276.3 C1033.8,2276.1 1040.4,2275.9 1047.1,2275.7 C1053.7,2275.4 1060.4,2275.2 1067.0,2274.9 C1073.6,2274.6 1080.3,2274.4 1086.9,2274.1 C1093.5,2273.8 1100.2,2273.5 1106.8,2273.2 C1113.4,2272.9 1120.1,2272.5 1126.7,2272.2 C1133.3,2271.9 1140.0,2271.5 1146.6,2271.1 C1153.3,2270.8 1159.9,2270.4 1166.5,2270.0 C1173.2,2269.6 1179.8,2269.2 1186.4,2268.8 C1193.1,2268.4 1199.7,2267.9 1206.3,2267.5 C1213.0,2267.0 1219.6,2266.6 1226.2,2266.1 C1232.9,2265.6 1239.5,2265.1 1246.2,2264.6 C1252.8,2264.1 1259.4,2263.5 1266.1,2263.0 C1272.7,2262.4 1279.3,2261.9 1286.0,2261.3 C1292.6,2260.7 1299.2,2260.1 1305.9,2259.5 C1312.5,2258.9 1319.1,2258.2 1325.8,2257.6 C1332.4,2256.9 1339.1,2256.3 1345.7,2255.6 C1352.3,2254.9 1359.0,2254.2 1365.6,2253.5 C1372.2,2252.8 1382.2,2251.6 1385.5,2251.2" fill="none" stroke="#ff0000" stroke-width="11.5" stroke-linecap="round" stroke-linejoin="round"/>
</g>
<line x1="946.4" y1="2285.5" x2="1006.4" y2="2313.7" stroke="#000" stroke-width="2.2" stroke-linecap="butt"/>
<line x1="1501.2" y1="2217.1" x2="1561.6" y2="2245.6" stroke="#000" stroke-width="2.2" stroke-linecap="butt"/>
<line x1="841.2" y1="2414.1" x2="787.7" y2="2457.9" stroke="#000" stroke-width="2.2" stroke-linecap="butt"/>
<line x1="1460.4" y1="2330.1" x2="1511.9" y2="2413.6" stroke="#000" stroke-width="2.2" stroke-linecap="butt"/>
<text transform="translate(174.38,1935.00) scale(0.9480,1)" font-family='"Liberation Sans", Arial, sans-serif' font-weight="bold" font-size="92.71" fill="#000">G,</text>
<text transform="translate(32.93,2058.20) scale(1.0069,1)" font-family='"Liberation Sans", Arial, sans-serif' font-weight="bold" font-size="94.62" fill="#000">kgf/mm</text>
<text transform="translate(372.70,2068.80) scale(0.8353,1)" font-family='"Liberation Sans", Arial, sans-serif' font-weight="bold" font-size="119.72" fill="#000">²</text>
<text transform="translate(1607.53,2050.20) scale(0.9473,1)" font-family='"Liberation Sans", Arial, sans-serif' font-weight="bold" font-size="96.55" fill="#000">f, mm</text>
<text transform="translate(1563.05,2803.70) scale(0.9645,1)" font-family='"Liberation Sans", Arial, sans-serif' font-weight="bold" font-size="94.07" fill="#000">h, mm</text>
<text transform="translate(68.84,2181.60) scale(1.0000,1)" font-family='"Liberation Sans", Arial, sans-serif' font-weight="normal" font-size="91.00" fill="#000">0</text>
<text transform="translate(36.46,2426.40) scale(1.0000,1)" font-family='"Liberation Sans", Arial, sans-serif' font-weight="normal" font-size="91.00" fill="#000">-2</text>
<text transform="translate(37.24,2671.00) scale(1.0000,1)" font-family='"Liberation Sans", Arial, sans-serif' font-weight="normal" font-size="91.00" fill="#000">-4</text>
<text transform="translate(148.61,2802.30) scale(1.0000,1)" font-family='"Liberation Sans", Arial, sans-serif' font-weight="normal" font-size="91.00" fill="#000">0.1</text>
<text transform="translate(388.08,2802.30) scale(1.0000,1)" font-family='"Liberation Sans", Arial, sans-serif' font-weight="normal" font-size="91.00" fill="#000">0.3</text>
<text transform="translate(627.55,2802.30) scale(1.0000,1)" font-family='"Liberation Sans", Arial, sans-serif' font-weight="normal" font-size="91.00" fill="#000">0.5</text>
<text transform="translate(867.71,2802.30) scale(1.0000,1)" font-family='"Liberation Sans", Arial, sans-serif' font-weight="normal" font-size="91.00" fill="#000">0.7</text>
<text transform="translate(1107.41,2802.30) scale(1.0000,1)" font-family='"Liberation Sans", Arial, sans-serif' font-weight="normal" font-size="91.00" fill="#000">0.9</text>
<text transform="translate(1723.40,2413.80) scale(1.0000,1)" font-family='"Liberation Sans", Arial, sans-serif' font-weight="normal" font-size="91.00" fill="#000">-0.05</text>
<text transform="translate(1010.27,2383.50) scale(1.0000,1)" font-family='"Liberation Sans", Arial, sans-serif' font-weight="normal" font-size="91.00" fill="#000">1</text>
<text transform="translate(1565.25,2317.70) scale(1.0000,1)" font-family='"Liberation Sans", Arial, sans-serif' font-weight="normal" font-size="91.00" fill="#000">2</text>
<text transform="translate(735.96,2523.60) scale(1.0000,1)" font-family='"Liberation Sans", Arial, sans-serif' font-weight="normal" font-size="91.00" fill="#000">3</text>
<text transform="translate(1514.92,2482.90) scale(1.0000,1)" font-family='"Liberation Sans", Arial, sans-serif' font-weight="normal" font-size="91.00" fill="#000">4</text>
<text transform="translate(965.52,2978.40) scale(0.8900,1)" font-family='"Liberation Serif", "Times New Roman", serif' font-weight="normal" font-size="87.00" fill="#000">(</text>
<text transform="translate(992.75,2978.40) scale(1.0000,1)" font-family='"Liberation Serif", "Times New Roman", serif' font-weight="bold" font-size="87.00" fill="#000">c</text>
<text transform="translate(1029.85,2978.40) scale(0.8900,1)" font-family='"Liberation Serif", "Times New Roman", serif' font-weight="normal" font-size="87.00" fill="#000">)</text></svg>
</body></html>
